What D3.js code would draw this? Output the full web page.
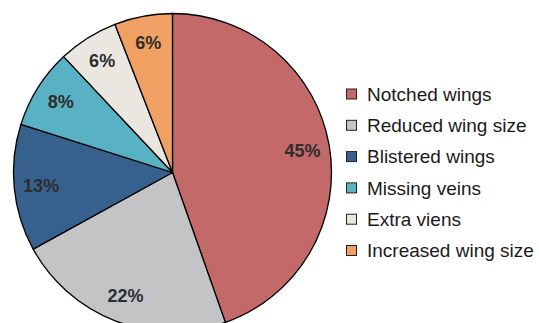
<!DOCTYPE html>
<html>
<head>
<meta charset="utf-8">
<script src="https://cdn.jsdelivr.net/npm/d3@7"></script>
<style>
  body { margin: 0; background: #fff; }
  text { font-family: "Liberation Sans", Arial, sans-serif; }
</style>
</head>
<body>
<div id="chart"></div>
<script>
// data
const categories = ['Notched wings', 'Reduced wing size', 'Blistered wings', 'Missing veins', 'Extra viens', 'Increased wing size']
const shares = [44.6, 22.4, 12.9, 8.1, 6.1, 5.9]
const colors = ['#C4696A', '#C3C4C6', '#37618D', '#58B2C4', '#EAE7E0', '#F1A063']

const width = 539,
  height = 323,
  cx = 172.5,
  cy = 172.5,
  radius = 159

const svg = d3.select('#chart')
  .append('svg')
  .attr('width', width)
  .attr('height', height)

const data = categories.map((c, i) => ({ name: c, value: shares[i], color: colors[i] }))

const pie = d3.pie()
  .value(d => d.value)
  .sort(null)

const arc = d3.arc().innerRadius(0).outerRadius(radius)
const labelArc = d3.arc().innerRadius(132).outerRadius(132)

const fmt = d3.format('.0f')

const g = svg.append('g')
  .attr('transform', `translate(${cx},${cy})`)

g.selectAll('path')
  .data(pie(data))
  .enter()
  .append('path')
  .attr('d', arc)
  .attr('fill', d => d.data.color)
  .attr('stroke', '#000')
  .attr('stroke-width', 1.3)
  .attr('stroke-linejoin', 'round')

g.selectAll('text.pct')
  .data(pie(data))
  .enter()
  .append('text')
  .attr('class', 'pct')
  .attr('transform', d => `translate(${labelArc.centroid(d)})`)
  .attr('text-anchor', 'middle')
  .attr('dy', '0.35em')
  .attr('font-size', 18)
  .attr('font-weight', 'bold')
  .attr('fill', '#2d2d2d')
  .text(d => fmt(d.data.value) + '%')

// legend
const yLegend = d3.scalePoint()
  .domain(categories)
  .range([94, 250.5])

const legend = svg.append('g')
  .selectAll('g')
  .data(data)
  .enter()
  .append('g')
  .attr('transform', d => `translate(346.5,${yLegend(d.name)})`)

legend.append('rect')
  .attr('x', 0)
  .attr('y', -5)
  .attr('width', 10)
  .attr('height', 10)
  .attr('fill', d => d.color)
  .attr('stroke', '#222')
  .attr('stroke-width', 1)

legend.append('text')
  .attr('x', 20.5)
  .attr('dy', '0.35em')
  .attr('font-size', 19)
  .attr('fill', '#1a1a1a')
  .text(d => d.name)
</script>
</body>
</html>
